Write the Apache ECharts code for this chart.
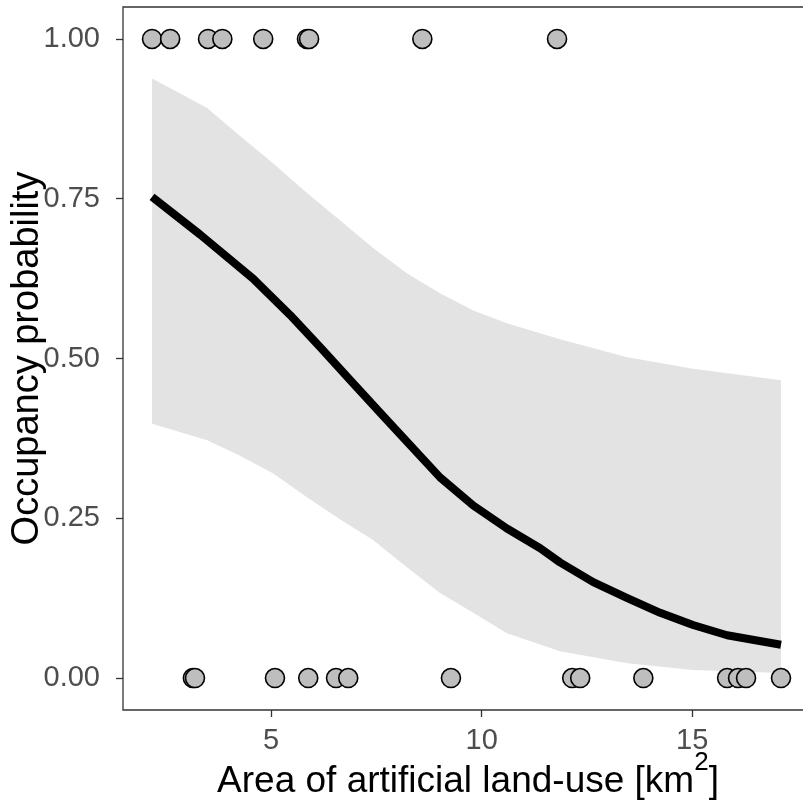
<!DOCTYPE html>
<html>
<head>
<meta charset="utf-8">
<script src="https://cdn.jsdelivr.net/npm/echarts@6/dist/echarts.min.js"></script>
<style>
  html, body { margin: 0; padding: 0; background: #fff; }
  #chart { width: 803px; height: 805px; }
</style>
</head>
<body>
<div id="chart"></div>
<script>
// Observed sites: area of artificial land-use (km²) where the species was present / absent
const presentX = [2.17, 2.60, 3.50, 3.84, 4.81, 5.85, 5.90, 8.59, 11.79];
const absentX = [3.14, 3.19, 5.09, 5.88, 6.54, 6.83, 9.27, 12.15, 12.34, 13.84, 15.83, 16.09, 16.28, 17.11];

// Fitted occupancy probability
const fitX = [2.17, 3.31, 4.57, 5.45, 6.16, 6.88, 7.66, 9.01, 9.80, 10.60, 11.39, 11.86, 12.65, 13.46, 14.24, 15.02, 15.83, 17.11];
const fitY = [0.753, 0.694, 0.625, 0.568, 0.518, 0.466, 0.410, 0.314, 0.270, 0.234, 0.203, 0.181, 0.150, 0.125, 0.102, 0.083, 0.067, 0.052];

// Confidence band around the fit
const bandX     = [2.17, 3.48, 4.26, 5.05, 5.85, 6.64, 7.42, 8.23, 9.01, 9.80, 10.60, 11.86, 13.46, 15.02, 17.11];
const bandUpper = [0.938, 0.892, 0.848, 0.805, 0.759, 0.716, 0.673, 0.633, 0.602, 0.575, 0.555, 0.530, 0.502, 0.484, 0.466];
const bandLower = [0.398, 0.372, 0.348, 0.320, 0.283, 0.248, 0.216, 0.173, 0.133, 0.102, 0.070, 0.042, 0.023, 0.0125, 0.008];

const xTicks = [5, 10, 15];
const yTicks = [0, 0.25, 0.5, 0.75, 1];

const FONT = '"Liberation Sans", Arial, sans-serif';
const chart = echarts.init(document.getElementById('chart'), null, { renderer: 'canvas' });

const bandData = bandX.map((x, i) => [x, bandLower[i], bandUpper[i]]);

chart.setOption({
  animation: false,
  backgroundColor: '#ffffff',
  grid: {
    left: 123, top: 7, width: 690, height: 703,
    outerBoundsMode: 'none', containLabel: false,
    show: true, borderColor: '#333333', borderWidth: 1.3, backgroundColor: 'transparent'
  },
  xAxis: {
    type: 'value', min: 1.48, max: 17.87,
    splitLine: { show: false },
    axisLine: { show: false, onZero: false },
    axisTick: { show: true, length: 7, customValues: xTicks, lineStyle: { color: '#333333', width: 1.3 } },
    axisLabel: { customValues: xTicks, margin: 16, fontSize: 29, color: '#4d4d4d', fontFamily: FONT },
    name: '{t|Area of artificial land-use [km}{s|2}{t|]}',
    nameLocation: 'middle', nameGap: 40, nameMoveOverlap: false,
    nameTextStyle: {
      rich: {
        t: { fontSize: 37, fontFamily: FONT, color: '#000', lineHeight: 50, verticalAlign: 'bottom' },
        s: { fontSize: 26, fontFamily: FONT, color: '#000', lineHeight: 26, verticalAlign: 'top' }
      }
    }
  },
  yAxis: {
    type: 'value', min: -0.05, max: 1.05,
    splitLine: { show: false },
    axisLine: { show: false, onZero: false },
    axisTick: { show: true, length: 7, customValues: yTicks, lineStyle: { color: '#333333', width: 1.3 } },
    axisLabel: {
      customValues: yTicks, margin: 23, fontSize: 29, color: '#4d4d4d', fontFamily: FONT,
      formatter: v => v.toFixed(2)
    },
    name: 'Occupancy probability',
    nameLocation: 'middle', nameGap: 76, nameMoveOverlap: false,
    nameTextStyle: { fontSize: 38, fontFamily: FONT, color: '#000' }
  },
  series: [
    {
      // confidence band as one polygon: upper edge left→right, lower edge right→left
      type: 'custom',
      data: bandData,
      renderItem: function (params, api) {
        if (params.dataIndex !== 0) return null;
        const pts = [];
        for (let i = 0; i < bandData.length; i++) pts.push(api.coord([bandData[i][0], bandData[i][2]]));
        for (let i = bandData.length - 1; i >= 0; i--) pts.push(api.coord([bandData[i][0], bandData[i][1]]));
        return { type: 'polygon', shape: { points: pts }, style: { fill: '#e3e3e3' } };
      },
      silent: true,
      z: 1
    },
    {
      type: 'line',
      data: fitX.map((x, i) => [x, fitY[i]]),
      showSymbol: false,
      lineStyle: { color: '#000', width: 8, cap: 'butt', join: 'round' },
      z: 2
    },
    {
      type: 'scatter',
      data: presentX.map(x => [x, 1]).concat(absentX.map(x => [x, 0])),
      symbol: 'circle', symbolSize: 19,
      itemStyle: { color: '#bebebe', borderColor: '#000', borderWidth: 1.6, opacity: 1 },
      z: 3
    }
  ]
});
</script>
</body>
</html>
